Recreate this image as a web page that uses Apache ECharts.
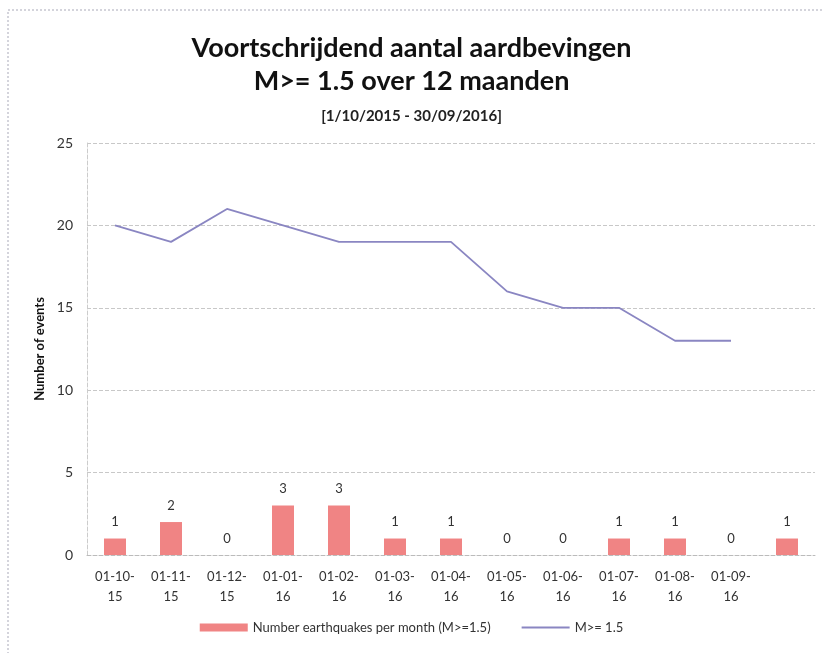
<!DOCTYPE html>
<html>
<head>
<meta charset="utf-8">
<script src="https://cdn.jsdelivr.net/npm/echarts@6/dist/echarts.min.js"></script>
<style>
  html, body { margin: 0; padding: 0; background: #fff; }
  #chart { width: 823px; height: 653px; }
</style>
</head>
<body>
<div id="chart"></div>
<script>
var categories = ["01-10-\n15", "01-11-\n15", "01-12-\n15", "01-01-\n16", "01-02-\n16", "01-03-\n16",
    "01-04-\n16", "01-05-\n16", "01-06-\n16", "01-07-\n16", "01-08-\n16", "01-09-\n16", ""];
var perMonth = [1, 2, 0, 3, 3, 1, 1, 0, 0, 1, 1, 0, 1];
var rolling = [20, 19, 21, 20, 19, 19, 19, 16, 15, 15, 13, 13, null];
var yTicks = [0, 5, 10, 15, 20, 25];

var myChart = echarts.init(document.getElementById('chart'));
var option = {
    backgroundColor: '#fff',
    animation: false,
    title: [{
        text: 'Voortschrijdend aantal aardbevingen\nM>= 1.5 over 12 maanden',
        left: 'center',
        top: 27,
        textStyle: { fontFamily: 'Lato', fontWeight: 'bold', fontSize: 27, lineHeight: 33, color: '#111' }
    }, {
        text: '[1/10/2015 - 30/09/2016]',
        left: 'center',
        top: 104,
        textStyle: { fontFamily: 'Lato', fontWeight: 'bold', fontSize: 15, color: '#222' }
    }],
    graphic: [{
        type: 'rect',
        shape: { x: 8, y: 10, width: 822, height: 650 },
        style: { fill: 'none', stroke: '#a9a9b8', lineWidth: 1, lineDash: [2, 2] },
        silent: true
    }],
    legend: {
        bottom: 14,
        left: 'center',
        itemGap: 30,
        itemWidth: 48,
        itemHeight: 8,
        textStyle: { fontFamily: 'Lato', fontSize: 13, color: '#333' },
        data: [
            { name: 'Number earthquakes per month (M>=1.5)', icon: 'rect' },
            { name: 'M>= 1.5', itemStyle: { opacity: 0 } }
        ]
    },
    grid: { left: 87, right: 8, top: 143, bottom: 98 },
    xAxis: {
        type: 'category',
        data: categories,
        axisTick: { show: false },
        axisLine: { lineStyle: { color: '#bbb', type: 'dashed' } },
        axisLabel: { fontFamily: 'Lato', fontSize: 13, color: '#333', lineHeight: 20, margin: 12, interval: 0 }
    },
    yAxis: {
        type: 'value',
        min: yTicks[0],
        max: yTicks[yTicks.length - 1],
        interval: 5,
        name: 'Number of events',
        nameLocation: 'middle',
        nameGap: 40,
        nameTextStyle: { fontFamily: 'Lato', fontWeight: 'bold', fontSize: 13, color: '#111' },
        axisLine: { show: true, lineStyle: { color: '#ccc', type: 'dashed' } },
        axisLabel: { fontFamily: 'Lato', fontSize: 14, color: '#333', margin: 14 },
        splitLine: { lineStyle: { color: '#c8c8c8', type: 'dashed' } }
    },
    series: [{
        name: 'Number earthquakes per month (M>=1.5)',
        type: 'bar',
        data: perMonth,
        barWidth: 22,
        itemStyle: { color: '#f08484' },
        label: { show: true, position: 'top', distance: 10, fontFamily: 'Lato', fontSize: 13, color: '#333' }
    }, {
        name: 'M>= 1.5',
        type: 'line',
        data: rolling,
        symbol: 'none',
        lineStyle: { color: '#8a86c2', width: 1.8 },
        itemStyle: { color: '#8a86c2' }
    }]
};
myChart.setOption(option);
</script>
</body>
</html>
